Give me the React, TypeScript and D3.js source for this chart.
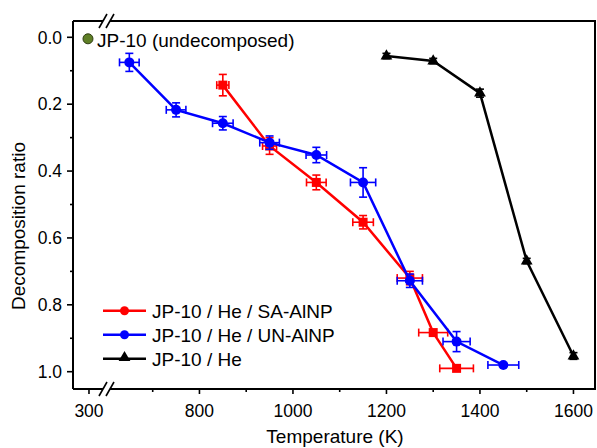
import React from 'react';
import * as d3 from 'd3';

// temperatures (K) and decomposition ratio for each series
const saTemp = [850, 950, 1050, 1150, 1250, 1300, 1350];
const saRatio = [0.143, 0.325, 0.434, 0.553, 0.72, 0.883, 0.99];
const saTempErr = [13, 15, 21, 22, 27, 31, 36];
const saRatioErr = [0.032, 0.025, 0.022, 0.02, 0.02, 0, 0];

const unTemp = [650, 750, 850, 950, 1050, 1150, 1250, 1350, 1450];
const unRatio = [0.075, 0.217, 0.257, 0.315, 0.352, 0.434, 0.728, 0.91, 0.98];
const unTempErr = [21, 21, 22, 21, 22, 27, 27, 29, 33];
const unRatioErr = [0.027, 0.021, 0.02, 0.02, 0.023, 0.044, 0.02, 0.03, 0];

const heTemp = [1200, 1300, 1400, 1500, 1600];
const heRatio = [0.056, 0.071, 0.167, 0.669, 0.953];
const heRatioErr = [0.008, 0.008, 0.012, 0.008, 0.01];

const refTemp = [300];
const refRatio = [0];

const xMajor = [300, 800, 1000, 1200, 1400, 1600];
const xMinor = [700, 900, 1100, 1300, 1500];
const yMajor = [0, 0.2, 0.4, 0.6, 0.8, 1.0];
const yMinor = [0.1, 0.3, 0.5, 0.7, 0.9];

const legendLabels = ['JP-10 / He / SA-AlNP', 'JP-10 / He / UN-AlNP', 'JP-10 / He'];
const legendColors = ['#ff0000', '#0000ff', '#000000'];

const W = 597;
const H = 448;
const left = 73;
const right = 596;
const top = 21;
const bottom = 389;
const breakL = 103;
const breakR = 110;

const FONT = '"Liberation Sans", Arial, sans-serif';

// broken x axis: a short low segment round 300 K, then the main range
const xA = d3.scaleLinear().domain([266, 333]).range([73.1, 104.4]);
const xB = d3.scaleLinear().domain([620, 1648]).range([115.3, 595.9]);
const x = (v: number) => (v < 500 ? xA(v) : xB(v));
const y = d3.scaleLinear().domain([0, 1]).range([37.3, 371.7]);

const line = d3.line<[number, number]>().x(d => x(d[0])).y(d => y(d[1]));
const tri = d3.symbol().type(d3.symbolTriangle).size(60)();

function ErrorBars({temps, ratios, tErr, rErr, color}: any) {
  return (
    <g stroke={color} strokeWidth={1.6} fill="none">
      {temps.map((t: number, i: number) => {
        const cx = x(t);
        const cy = y(ratios[i]);
        const parts = [];
        if (tErr && tErr[i] > 0) {
          const x0 = x(t - tErr[i]);
          const x1 = x(t + tErr[i]);
          parts.push(<line key="h" x1={x0} x2={x1} y1={cy} y2={cy} />);
          parts.push(<line key="h0" x1={x0} x2={x0} y1={cy - 4} y2={cy + 4} />);
          parts.push(<line key="h1" x1={x1} x2={x1} y1={cy - 4} y2={cy + 4} />);
        }
        if (rErr && rErr[i] > 0) {
          const y0 = y(ratios[i] - rErr[i]);
          const y1 = y(ratios[i] + rErr[i]);
          parts.push(<line key="v" x1={cx} x2={cx} y1={y0} y2={y1} />);
          parts.push(<line key="v0" x1={cx - 4} x2={cx + 4} y1={y0} y2={y0} />);
          parts.push(<line key="v1" x1={cx - 4} x2={cx + 4} y1={y1} y2={y1} />);
        }
        return <g key={i}>{parts}</g>;
      })}
    </g>
  );
}

function BreakMarks({yy}: {yy: number}) {
  return (
    <g>
      <rect x={breakL} y={yy - 3} width={breakR - breakL} height={6} fill="white" />
      <line x1={99} y1={yy + 7} x2={107} y2={yy - 7} stroke="black" strokeWidth={1.6} />
      <line x1={106} y1={yy + 7} x2={114} y2={yy - 7} stroke="black" strokeWidth={1.6} />
    </g>
  );
}

export default function App() {
  const sa = saTemp.map((t, i) => [t, saRatio[i]] as [number, number]);
  const un = unTemp.map((t, i) => [t, unRatio[i]] as [number, number]);
  const he = heTemp.map((t, i) => [t, heRatio[i]] as [number, number]);

  return (
    <svg
      width={W}
      height={H}
      style={{position: 'absolute', left: 0, top: 0, background: 'white'}}
      fontFamily={FONT}>
      {/* frame */}
      <g stroke="black" strokeWidth={2} fill="none">
        <line x1={left} x2={left} y1={top} y2={bottom} />
        <line x1={right - 1} x2={right - 1} y1={top} y2={bottom} />
        <line x1={left} x2={right} y1={top} y2={top} />
        <line x1={left} x2={right} y1={bottom} y2={bottom} />
      </g>
      <BreakMarks yy={top} />
      <BreakMarks yy={bottom} />

      {/* x ticks */}
      <g stroke="black" strokeWidth={1.6}>
        {xMajor.map(v => (
          <line key={v} x1={x(v)} x2={x(v)} y1={bottom} y2={bottom + 5} />
        ))}
        {xMinor.map(v => (
          <line key={v} x1={x(v)} x2={x(v)} y1={bottom} y2={bottom + 3} />
        ))}
      </g>
      <g fontSize={17.5} textAnchor="middle">
        {xMajor.map(v => (
          <text key={v} x={x(v)} y={416.5}>
            {v}
          </text>
        ))}
      </g>

      {/* y ticks */}
      <g stroke="black" strokeWidth={1.6}>
        {yMajor.map(v => (
          <line key={v} x1={left - 6} x2={left} y1={y(v)} y2={y(v)} />
        ))}
        {yMinor.map(v => (
          <line key={v} x1={left - 3} x2={left} y1={y(v)} y2={y(v)} />
        ))}
      </g>
      <g fontSize={17.5} textAnchor="end">
        {yMajor.map(v => (
          <text key={v} x={62} y={y(v) + 6.3}>
            {d3.format('.1f')(v)}
          </text>
        ))}
      </g>

      <text x={335} y={443} fontSize={19} textAnchor="middle">
        Temperature (K)
      </text>
      <text transform="translate(25,226) rotate(-90)" fontSize={19} textAnchor="middle">
        Decomposition ratio
      </text>

      {/* series */}
      <path d={line(he) || ''} fill="none" stroke="black" strokeWidth={2.5} />
      <ErrorBars temps={heTemp} ratios={heRatio} rErr={heRatioErr} color="black" />
      {he.map((d, i) => (
        <path key={i} d={tri || ''} transform={`translate(${x(d[0])},${y(d[1])})`} fill="black" />
      ))}

      <path d={line(sa) || ''} fill="none" stroke="#ff0000" strokeWidth={2.5} />
      <ErrorBars temps={saTemp} ratios={saRatio} tErr={saTempErr} rErr={saRatioErr} color="#ff0000" />
      {sa.map((d, i) => (
        <rect key={i} x={x(d[0]) - 4.5} y={y(d[1]) - 4.5} width={9} height={9} fill="#ff0000" />
      ))}

      <path d={line(un) || ''} fill="none" stroke="#0000ff" strokeWidth={2.5} />
      <ErrorBars temps={unTemp} ratios={unRatio} tErr={unTempErr} rErr={unRatioErr} color="#0000ff" />
      {un.map((d, i) => (
        <circle key={i} cx={x(d[0])} cy={y(d[1])} r={5} fill="#0000ff" />
      ))}

      {/* undecomposed reference */}
      {refTemp.map((t, i) => (
        <circle key={i} cx={x(t) - 1} cy={y(refRatio[i]) + 1.5} r={5} fill="#5f7f26" stroke="#2f3d12" strokeWidth={1} />
      ))}
      <text x={97} y={47} fontSize={19}>
        JP-10 (undecomposed)
      </text>

      {/* legend */}
      {legendLabels.map((label, i) => {
        const ly = 310.7 + i * 24;
        return (
          <g key={label}>
            <line x1={103} x2={146} y1={ly} y2={ly} stroke={legendColors[i]} strokeWidth={2.5} />
            {i < 2 ? (
              <circle cx={124.5} cy={ly} r={4.5} fill={legendColors[i]} />
            ) : (
              <path d={tri || ''} transform={`translate(124.5,${ly - 1})`} fill="black" />
            )}
            <text x={152} y={ly + 7} fontSize={19}>
              {label}
            </text>
          </g>
        );
      })}
    </svg>
  );
}
